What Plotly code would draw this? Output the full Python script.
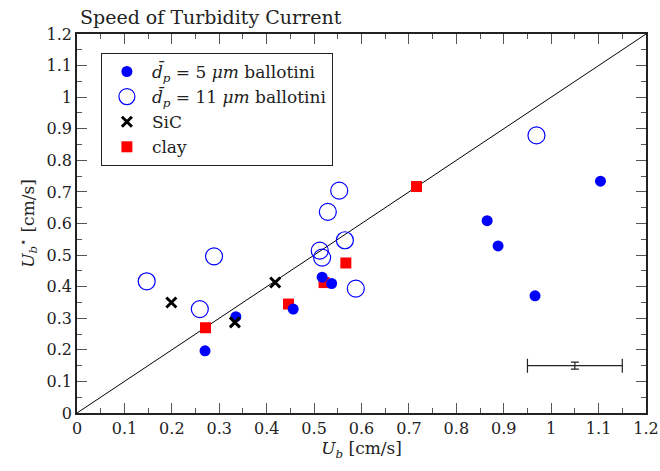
import plotly.graph_objects as go

# 5 um ballotini (filled blue circles)
b5_x = [0.270, 0.335, 0.456, 0.517, 0.537, 0.865, 0.888, 0.966, 1.104]
b5_y = [0.197, 0.305, 0.329, 0.430, 0.410, 0.609, 0.529, 0.371, 0.734]

# 11 um ballotini (open blue circles)
b11_x = [0.147, 0.259, 0.289, 0.512, 0.517, 0.529, 0.553, 0.565, 0.588, 0.969]
b11_y = [0.417, 0.329, 0.496, 0.514, 0.492, 0.637, 0.704, 0.547, 0.394, 0.879]

# SiC (black crosses)
sic_x = [0.199, 0.333, 0.418]
sic_y = [0.350, 0.287, 0.413]

# clay (red squares)
clay_x = [0.271, 0.446, 0.521, 0.567, 0.716]
clay_y = [0.270, 0.345, 0.413, 0.475, 0.717]

# representative error bar
err_x, err_y = [1.05], [0.15]
err_dx, err_dy = [0.10], [0.011]

# 1:1 line
diag = [0.0, 1.2]

FONT = "'DejaVu Serif', 'Liberation Serif', serif"
FS = 16

fig = go.Figure()

fig.add_trace(go.Scatter(x=diag, y=diag, mode="lines",
                         line=dict(color="black", width=1), showlegend=False,
                         hoverinfo="skip"))

fig.add_trace(go.Scatter(x=clay_x, y=clay_y, mode="markers", name="clay",
                         legendrank=4,
                         marker=dict(symbol="square", size=11, color="red")))

fig.add_trace(go.Scatter(x=b5_x, y=b5_y, mode="markers",
                         name="<i>d̄</i><sub><i>p</i></sub> = 5 <i>μm</i> ballotini",
                         legendrank=1,
                         marker=dict(symbol="circle", size=11, color="blue")))

fig.add_trace(go.Scatter(x=b11_x, y=b11_y, mode="markers",
                         name="<i>d̄</i><sub><i>p</i></sub> = 11 <i>μm</i> ballotini",
                         legendrank=2,
                         marker=dict(symbol="circle-open", size=17, color="blue",
                                     line=dict(width=1.2, color="blue"))))

fig.add_trace(go.Scatter(x=sic_x, y=sic_y, mode="markers", name="SiC",
                         legendrank=3,
                         marker=dict(symbol="x-thin", size=10, color="black",
                                     line=dict(width=3, color="black"))))

fig.add_trace(go.Scatter(x=err_x, y=err_y, mode="markers", showlegend=False,
                         marker=dict(size=1, color="rgba(0,0,0,0)"),
                         error_x=dict(type="data", array=err_dx, color="#222",
                                      thickness=1.2, width=7),
                         error_y=dict(type="data", array=err_dy, color="#222",
                                      thickness=1.2, width=4)))

axis_common = dict(
    range=[0, 1.2], dtick=0.1, tick0=0, ticks="inside", ticklen=10,
    tickwidth=1.2, tickcolor="#555", showline=True, linecolor="#222",
    linewidth=1.5, mirror="allticks", showgrid=False, zeroline=False,
    automargin=False,
    tickfont=dict(family=FONT, size=FS, color="#222"),
    minor=dict(dtick=0.05, ticklen=5, tickwidth=1.2, tickcolor="#555",
               ticks="inside", showgrid=False),
)

fig.update_layout(
    width=660, height=471,
    margin=dict(l=77, r=14, t=34, b=58),
    paper_bgcolor="white", plot_bgcolor="white",
    font=dict(family=FONT, size=FS, color="#222"),
    title=dict(text="Speed of Turbidity Current", x=80 / 660, xanchor="left",
               y=1 - 17 / 471, yanchor="middle",
               font=dict(family=FONT, size=19, color="#222")),
    xaxis=dict(**axis_common,
               title=dict(text="<i>U</i><sub><i>b</i></sub> [cm/s]", standoff=2,
                          font=dict(family=FONT, size=17))),
    yaxis=dict(**axis_common,
               title=dict(text="<i>U</i><sub><i>b</i></sub><sup>⋆</sup> [cm/s]",
                          standoff=8, font=dict(family=FONT, size=17))),
    legend=dict(x=0.042, y=0.95, xanchor="left", yanchor="top",
                bordercolor="#222", borderwidth=1, bgcolor="white",
                font=dict(family=FONT, size=17, color="#222"),
                tracegroupgap=0, itemsizing="trace", itemwidth=40),
    showlegend=True,
)

fig.write_html("out.html")
